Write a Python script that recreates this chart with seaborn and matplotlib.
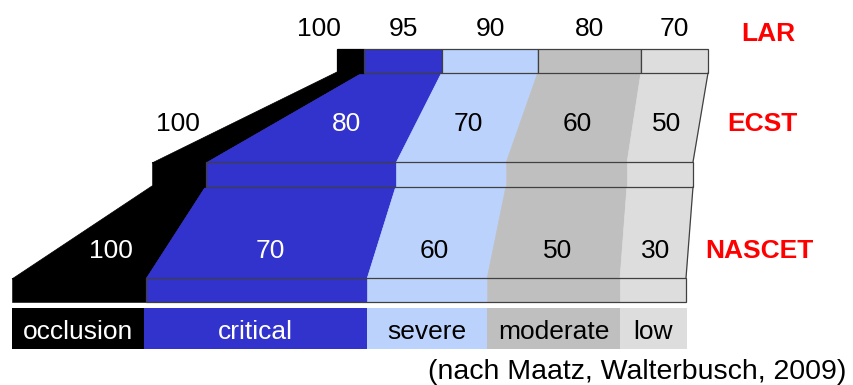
import numpy as np
import matplotlib
matplotlib.use("Agg")
import matplotlib.pyplot as plt
import seaborn as sns
from matplotlib.patches import Rectangle

# stenosis grades (bottom strip) and their colours
grades = ["occlusion", "critical", "severe", "moderate", "low"]
grade_colors = ["#000000", "#3232cc", "#bbd3fc", "#bfbfbf", "#dddddd"]

# the three measuring methods and their % values per grade
scales = ["LAR", "ECST", "NASCET"]
lar_values = ["100", "95", "90", "80", "70"]
ecst_values = ["100", "80", "70", "60", "50"]
nascet_values = ["100", "70", "60", "50", "30"]

# where each grade starts / ends along the common horizontal axis
lar_edges = [337, 364, 442, 538, 641, 708]
ecst_edges = [152, 206, 396, 506, 627, 693]
nascet_edges = [12, 146, 367, 487, 620, 686]
grade_edges = [12, 144, 367, 487, 620, 687]

sns.set_theme(style="white")
plt.rcParams["font.family"] = ["Liberation Sans", "DejaVu Sans"]
plt.rcParams["text.color"] = "black"

edge = "#404040"
red = "#ff0000"
fs = 19

fig = plt.figure(figsize=(8.54, 3.85), dpi=100)
ax = fig.add_axes([0, 0, 1, 1])
ax.set_xlim(0, 854)
ax.set_ylim(385, 0)
ax.axis("off")

# vertical layout of the rows
rows = {"LAR": (49, 73), "ECST": (162, 187), "NASCET": (278, 302)}
strip = (308, 349)


def draw_row(edges, y0, y1, each):
    for i, c in enumerate(grade_colors):
        ax.barh((y0 + y1) / 2, edges[i + 1] - edges[i], left=edges[i],
                height=y1 - y0, color=c,
                edgecolor=edge if (each and i > 0) else c,
                linewidth=0.9 if each else 0.4, zorder=2)
    if not each:
        ax.add_patch(Rectangle((edges[1], y0), edges[-1] - edges[1], y1 - y0,
                               fill=False, edgecolor=edge, linewidth=0.9, zorder=3))


def draw_link(top, bot, y0, y1):
    # polygons reach 1 px into the bars so no seam shows at the joins
    for i, c in enumerate(grade_colors):
        ax.fill([top[i], top[i + 1], bot[i + 1], bot[i]],
                [y0 - 1, y0 - 1, y1 + 1, y1 + 1],
                color=c, edgecolor=c, linewidth=0.5, zorder=1)
    ax.plot([top[-1], bot[-1]], [y0, y1], color=edge, lw=0.9, zorder=3)


def link_labels(top, bot, y0, y1, values, yc, base, outside_off):
    t = (yc - y0) / (y1 - y0)
    xs = np.array(top) + t * (np.array(bot) - np.array(top))
    for i, v in enumerate(values):
        w = xs[i + 1] - xs[i]
        if w < 60:
            ax.text(xs[i] - outside_off, base, v, ha="right", va="baseline",
                    fontsize=fs, color="black")
        else:
            col = "white" if i < 2 else "black"
            ax.text((xs[i] + xs[i + 1]) / 2, base, v, ha="center",
                    va="baseline", fontsize=fs, color=col)


# bars
draw_row(lar_edges, *rows["LAR"], each=True)
draw_row(ecst_edges, *rows["ECST"], each=False)
draw_row(nascet_edges, *rows["NASCET"], each=False)

# connectors between the bars
draw_link(lar_edges, ecst_edges, rows["LAR"][1], rows["ECST"][0])
draw_link(ecst_edges, nascet_edges, rows["ECST"][1], rows["NASCET"][0])

# LAR values above the bar
for i, v in enumerate(lar_values):
    w = lar_edges[i + 1] - lar_edges[i]
    if w < 40:
        ax.text(lar_edges[i] + 4, 36, v, ha="right", va="baseline", fontsize=fs)
    else:
        ax.text((lar_edges[i] + lar_edges[i + 1]) / 2, 36, v, ha="center",
                va="baseline", fontsize=fs)

link_labels(lar_edges, ecst_edges, rows["LAR"][1], rows["ECST"][0],
            ecst_values, 122, 131, 35)
link_labels(ecst_edges, nascet_edges, rows["ECST"][1], rows["NASCET"][0],
            nascet_values, 249, 258, 35)

# method names
for name, x, y in zip(scales, [768, 762, 759], [41, 131, 258]):
    ax.text(x, y, name, ha="center", va="baseline", fontsize=fs,
            fontweight="bold", color=red)

# grade strip
for i, g in enumerate(grades):
    ax.barh((strip[0] + strip[1]) / 2, grade_edges[i + 1] - grade_edges[i],
            left=grade_edges[i], height=strip[1] - strip[0],
            color=grade_colors[i], linewidth=0)
    ax.text((grade_edges[i] + grade_edges[i + 1]) / 2, 339, g, ha="center",
            va="baseline", fontsize=fs,
            color="white" if i < 2 else "black")

ax.text(846, 379, "(nach Maatz, Walterbusch, 2009)", ha="right",
        va="baseline", fontsize=20.5)

fig.savefig("out.png", dpi=100)
